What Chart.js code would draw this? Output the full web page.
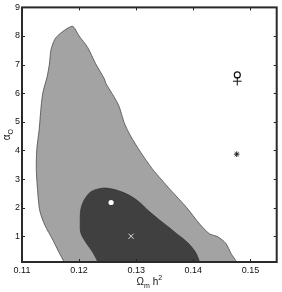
<!DOCTYPE html>
<html>
<head>
<meta charset="utf-8">
<script src="https://cdn.jsdelivr.net/npm/chart.js@4/dist/chart.umd.min.js"></script>
<style>
  html, body { margin: 0; padding: 0; background: #fff; }
  #wrap { width: 282px; height: 292px; }
</style>
</head>
<body>
<div id="wrap"><canvas id="chart" width="282" height="292"></canvas></div>
<script>
// outer (light) confidence region, traced clockwise from bottom-left
const outerX = [0.1174, 0.1166, 0.1154, 0.1140, 0.1131, 0.1127, 0.1125, 0.1126, 0.1130, 0.1134, 0.1137, 0.1144, 0.1148, 0.1151, 0.1160, 0.1188,
                0.1200, 0.1215, 0.1229, 0.1244, 0.1247, 0.1261, 0.1270, 0.1279, 0.1290, 0.1308, 0.1328, 0.1345, 0.1360, 0.1388, 0.1411, 0.1428, 0.1443, 0.1457, 0.1466, 0.1476];
const outerY = [0.1, 0.39, 0.87, 1.39, 1.90, 2.69, 3.38, 4.06, 4.72, 5.65, 6.06, 6.58, 7.02, 7.54, 7.96, 8.34,
                8.00, 7.60, 7.03, 6.51, 6.34, 5.88, 5.54, 4.97, 4.51, 3.93, 3.36, 2.96, 2.62, 2.01, 1.43, 1.09, 0.98, 0.75, 0.40, 0.1];

// inner (dark) region
const innerX = [0.1233, 0.1224, 0.1212, 0.1203, 0.1202, 0.1203, 0.1209, 0.1221, 0.1241, 0.1258, 0.1272, 0.1288, 0.1305, 0.1322, 0.1340, 0.1356, 0.1370, 0.1383, 0.1396, 0.1405, 0.1411];
const innerY = [0.1, 0.44, 0.78, 1.12, 1.47, 1.93, 2.27, 2.56, 2.68, 2.65, 2.57, 2.43, 2.20, 1.88, 1.58, 1.33, 1.10, 0.90, 0.65, 0.40, 0.1];

// single markers
const dotPt = { x: 0.1256, y: 2.18 };
const crossPt = { x: 0.1291, y: 1.00 };
const circlePt = { x: 0.1477, y: 6.64 };
const plusPt = { x: 0.1477, y: 6.42 };
const starPt = { x: 0.1476, y: 3.87 };

const xTicks = [0.11, 0.12, 0.13, 0.14, 0.15];
const yTicks = [1, 2, 3, 4, 5, 6, 7, 8, 9];

const toPts = (xs, ys) => xs.map((x, i) => ({ x: x, y: ys[i] }));
const FONT = 'Liberation Sans, Arial, sans-serif';

// frame, inward ticks on all four sides, axis titles with sub/superscripts
const framePlugin = {
    id: 'frame',
    afterDraw(chart) {
        const ctx = chart.ctx;
        const a = chart.chartArea;
        const xs = chart.scales.x, ys = chart.scales.y;
        ctx.save();
        ctx.strokeStyle = '#222';
        ctx.lineWidth = 1;
        xTicks.forEach(v => {
            const px = Math.round(xs.getPixelForValue(v)) + 0.5;
            ctx.beginPath();
            ctx.moveTo(px, a.bottom); ctx.lineTo(px, a.bottom - 3);
            ctx.moveTo(px, a.top); ctx.lineTo(px, a.top + 3);
            ctx.stroke();
        });
        yTicks.forEach(v => {
            const py = Math.round(ys.getPixelForValue(v)) + 0.5;
            ctx.beginPath();
            ctx.moveTo(a.left, py); ctx.lineTo(a.left + 3, py);
            ctx.moveTo(a.right, py); ctx.lineTo(a.right - 3, py);
            ctx.stroke();
        });
        ctx.lineWidth = 2;
        ctx.strokeStyle = '#2a2a2a';
        ctx.strokeRect(a.left, a.top, a.right - a.left, a.bottom - a.top);

        // x title: Omega_m h^2
        ctx.fillStyle = '#111';
        ctx.textBaseline = 'alphabetic';
        const cx = (a.left + a.right) / 2;
        const base = 285;
        const parts = [['\u03A9', 10, 0], ['m', 7, 3], [' h', 10, 0], ['2', 7, -5]];
        let w = 0;
        parts.forEach(p => { ctx.font = p[1] + 'px ' + FONT; w += ctx.measureText(p[0]).width; });
        let x = cx - w / 2;
        ctx.textAlign = 'left';
        parts.forEach(p => {
            ctx.font = p[1] + 'px ' + FONT;
            ctx.fillText(p[0], x, base + p[2]);
            x += ctx.measureText(p[0]).width;
        });

        // y title: alpha_O, rotated
        ctx.translate(10, (a.top + a.bottom) / 2);
        ctx.rotate(-Math.PI / 2);
        const yparts = [['\u03B1', 10, 0], ['O', 7, 3]];
        let yw = 0;
        yparts.forEach(p => { ctx.font = p[1] + 'px ' + FONT; yw += ctx.measureText(p[0]).width; });
        let yx = -yw / 2;
        yparts.forEach(p => {
            ctx.font = p[1] + 'px ' + FONT;
            ctx.fillText(p[0], yx, p[2]);
            yx += ctx.measureText(p[0]).width;
        });
        ctx.restore();
    }
};

new Chart(document.getElementById('chart'), {
    type: 'scatter',
    data: {
        datasets: [
            {
                data: toPts(outerX, outerY),
                showLine: true, fill: 'shape', tension: 0.25,
                backgroundColor: '#a3a3a3', borderColor: '#4a4a4a', borderWidth: 0.8,
                pointRadius: 0, order: 3
            },
            {
                data: toPts(innerX, innerY),
                showLine: true, fill: 'shape', tension: 0.3,
                backgroundColor: '#404040', borderColor: '#333', borderWidth: 0.8,
                pointRadius: 0, order: 2
            },
            { data: [dotPt], pointStyle: 'circle', pointRadius: 2.6, backgroundColor: '#fff', borderColor: '#fff', borderWidth: 0, order: 1 },
            { data: [crossPt], pointStyle: 'crossRot', pointRadius: 3.6, borderColor: '#e0e0e0', borderWidth: 1, order: 1 },
            { data: [circlePt], pointStyle: 'circle', pointRadius: 3, backgroundColor: 'rgba(0,0,0,0)', borderColor: '#111', borderWidth: 1.2, order: 1 },
            { data: [plusPt], pointStyle: 'cross', pointRadius: 4.3, borderColor: '#111', borderWidth: 1, order: 1 },
            { data: [starPt], pointStyle: 'star', pointRadius: 2.8, borderColor: '#111', borderWidth: 0.9, order: 1 }
        ]
    },
    options: {
        responsive: false,
        animation: false,
        layout: { padding: { top: 3, right: 3, left: 0, bottom: 0 } },
        plugins: { legend: { display: false }, tooltip: { enabled: false } },
        scales: {
            x: {
                type: 'linear', min: 0.11, max: 0.1546,
                afterBuildTicks: s => { s.ticks = xTicks.map(v => ({ value: v })); },
                afterFit: s => { s.height = 30; },
                grid: { display: false, drawTicks: false },
                border: { display: false },
                ticks: { color: '#111', padding: 3, font: { family: FONT, size: 9 }, maxRotation: 0,
                         callback: v => v.toFixed(2) }
            },
            y: {
                type: 'linear', min: 0.1, max: 9,
                afterBuildTicks: s => { s.ticks = yTicks.map(v => ({ value: v })); },
                afterFit: s => { s.width = 22; },
                grid: { display: false, drawTicks: false },
                border: { display: false },
                ticks: { color: '#111', padding: 2, font: { family: FONT, size: 9 } }
            }
        }
    },
    plugins: [framePlugin]
});
</script>
</body>
</html>
